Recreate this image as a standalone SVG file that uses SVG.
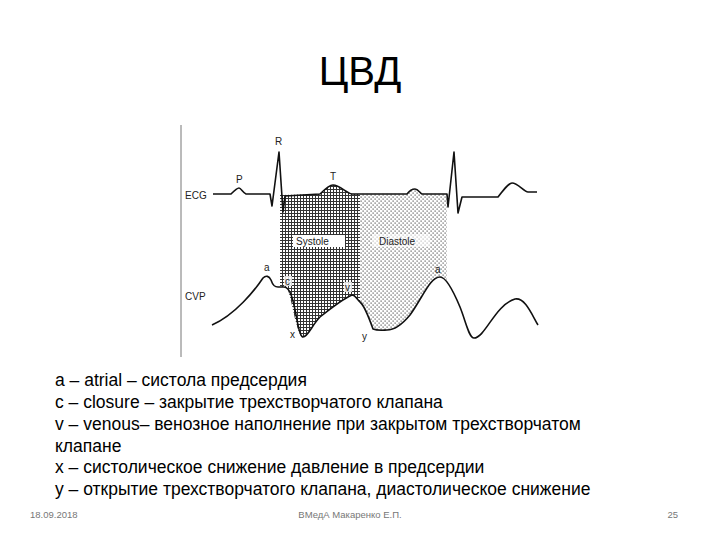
<svg xmlns="http://www.w3.org/2000/svg" width="720" height="540" viewBox="0 0 720 540">
<style>
.t{font-family:"Liberation Sans",Arial,sans-serif;fill:#000}
.s{font-family:"Liberation Sans",Arial,sans-serif;font-size:10px;fill:#222}
.c{fill:none;stroke:#111;stroke-width:1.6;stroke-linejoin:round}
.f{font-family:"Liberation Sans",Arial,sans-serif;font-size:9.5px;fill:#777}
</style>
<defs>
<pattern id="grid" width="3" height="3" patternUnits="userSpaceOnUse"><rect width="3" height="3" fill="#fff"/><path d="M0 0.5H3M0.5 0V3" stroke="#333" stroke-width="1"/></pattern>
<pattern id="dots" width="4" height="4" patternUnits="userSpaceOnUse"><rect width="4" height="4" fill="#fff"/><rect x="0.5" y="0.5" width="1.2" height="1.2" fill="#555"/><rect x="2.5" y="2.5" width="1.2" height="1.2" fill="#555"/></pattern>
</defs>
<rect width="720" height="540" fill="#fff"/>
<text class="t" x="360" y="85" font-size="40" text-anchor="middle">ЦВД</text>
<g id="chart">
<line x1="181" y1="125" x2="181" y2="357" stroke="#777" stroke-width="1"/>
<path id="sys" d="M280,195 L320,194 C326,188 330,185 333,185 C340,185 346,193 352,194 L360,194 L360,302 C356,298 354,295 352,295 C345,298 335,305 320,317 C312,325 308,337 303,337 C297,337 292,300 287,287 L280,287 Z" fill="url(#grid)"/>
<path id="dia" d="M360,194 L407,194 C410,190 413,189 415,189 C418,189 420,193 422,194 L447,194 L447,282 C444,279 442,277 440,277 C430,277 423,297 410,315 C400,327 392,330 387,330 C380,330 375,330 373,329 C368,315 364,305 360,302 Z" fill="url(#dots)"/>
<rect x="293" y="235" width="52" height="12" fill="#fff"/>
<rect x="372" y="234" width="58" height="13" fill="#fff" opacity="0.6"/>
<rect x="284" y="276" width="8" height="10" fill="#fff" opacity="0.8"/>
<rect x="344" y="282" width="8" height="10" fill="#fff" opacity="0.8"/>
<path class="c" d="M213,194 L231,194 C235,190 237,188 239,188 C241,188 243,193 246,194 L270,194 L272,206 L279,152 L283,212 L285,196 L320,194 C326,188 330,185 333,185 C340,185 346,193 352,194 L407,194 C410,190 413,189 415,189 C418,189 420,193 422,194 L447,194 L448,207 L454,152 L458,213 L462,197 L498,197 C505,188 509,183 512,183 C518,183 524,192 528,192 L537,192"/>
<path class="c" d="M212,325 C235,315 255,290 263,278 C266,275 269,276 271,280 C273,286 275,287 278,287 L284,287 C290,287 293,298 297,320 C299,331 301,337 303,337 C308,337 312,325 320,317 C335,305 345,298 352,295 C355,295 357,299 360,302 C364,305 368,315 373,329 C378,331 384,330 387,330 C392,330 400,327 410,315 C423,297 430,277 440,277 C447,277 455,295 460,307 C466,322 469,338 474,338 C485,338 495,305 515,299 C525,297 532,315 538,325"/>
</g>
<g id="labels">
<text class="s" x="185" y="199">ECG</text>
<text class="s" x="185" y="300">CVP</text>
<text class="s" x="236" y="183">P</text>
<text class="s" x="275" y="145">R</text>
<text class="s" x="330" y="180">T</text>
<text class="s" x="296" y="245">Systole</text>
<text class="s" x="379" y="245">Diastole</text>
<text class="s" x="264" y="271">a</text>
<text class="s" x="285" y="285">c</text>
<text class="s" x="345" y="291">v</text>
<text class="s" x="290" y="338">x</text>
<text class="s" x="362" y="340">y</text>
<text class="s" x="435" y="273">a</text>
</g>
<g id="text" class="t" font-size="17.5">
<text x="55" y="386">a – atrial – систола предсердия</text>
<text x="55" y="408">c – closure – закрытие трехстворчатого клапана</text>
<text x="55" y="430">v – venous– венозное наполнение при закрытом трехстворчатом</text>
<text x="55" y="452">клапане</text>
<text x="55" y="473">x – систолическое снижение давление в предсердии</text>
<text x="55" y="495">y – открытие трехстворчатого клапана, диастолическое снижение</text>
</g>
<text class="f" x="30" y="518">18.09.2018</text>
<text class="f" x="350" y="518" text-anchor="middle">ВМедА Макаренко Е.П.</text>
<text class="f" x="678" y="518" text-anchor="end">25</text>
</svg>
